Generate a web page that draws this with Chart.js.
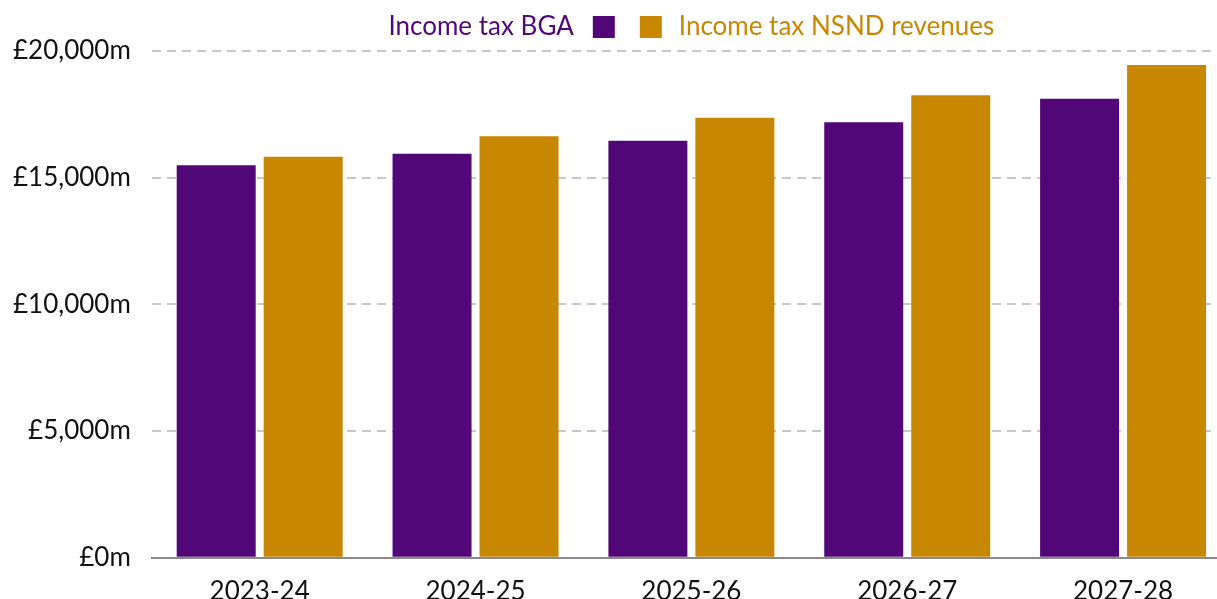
<!DOCTYPE html>
<html>
<head>
<meta charset="utf-8">
<script src="https://cdn.jsdelivr.net/npm/chart.js@4"></script>
<style>
html,body{margin:0;padding:0;background:#fff;overflow:hidden;}
#wrap{width:1231px;height:599px;}
</style>
</head>
<body>
<div id="wrap"><canvas id="c" width="1231" height="599"></canvas></div>
<script>
const categories = ["2023-24", "2024-25", "2025-26", "2026-27", "2027-28"];
const seriesNames = ["Income tax BGA", "Income tax NSND revenues"];
const bgaValues = [15490, 15950, 16460, 17190, 18120];
const nsndValues = [15830, 16640, 17370, 18250, 19450];
const yTicks = [0, 5000, 10000, 15000, 20000];

const PURPLE = "#510777";
const GOLD = "#c78700";
const FONT = "Lato, 'Noto Sans', sans-serif";

const legendPlugin = {
  id: "customLegend",
  afterDraw(chart) {
    const ctx = chart.ctx;
    const area = chart.chartArea;
    ctx.save();
    ctx.font = "26px " + FONT;
    ctx.textBaseline = "middle";
    const box = 22, gapTB = 19, gapMid = 25, gapBT = 17;
    const w1 = ctx.measureText(seriesNames[0]).width;
    const w2 = ctx.measureText(seriesNames[1]).width;
    const total = w1 + gapTB + box + gapMid + box + gapBT + w2;
    let x = (area.left + area.right) / 2 - total / 2;
    const y = 27;
    ctx.fillStyle = PURPLE;
    ctx.fillText(seriesNames[0], x, y);
    x += w1 + gapTB;
    ctx.fillRect(x, y - box / 2, box, box);
    x += box + gapMid;
    ctx.fillStyle = GOLD;
    ctx.fillRect(x, y - box / 2, box, box);
    x += box + gapBT;
    ctx.fillText(seriesNames[1], x, y);
    ctx.restore();
  }
};

new Chart(document.getElementById("c"), {
  type: "bar",
  data: {
    labels: categories,
    datasets: [
      { label: seriesNames[0], data: bgaValues, backgroundColor: PURPLE, categoryPercentage: 0.806, barPercentage: 0.908 },
      { label: seriesNames[1], data: nsndValues, backgroundColor: GOLD, categoryPercentage: 0.806, barPercentage: 0.908 }
    ]
  },
  options: {
    responsive: false,
    animation: false,
    layout: { padding: { top: 51, left: -8, right: 0, bottom: -26 } },
    plugins: { legend: { display: false }, tooltip: { enabled: false } },
    scales: {
      x: {
        grid: { display: false, drawTicks: false },
        border: { display: true, color: "#8a8a8a", width: 2 },
        ticks: { color: "#111", font: { family: FONT, size: 26 }, padding: 18 }
      },
      y: {
        min: 0, max: 20000,
        afterBuildTicks(scale) { scale.ticks = yTicks.map(v => ({ value: v })); },
        grid: { color: "#c8c8c8", lineWidth: 2, drawTicks: false },
        border: { display: false, dash: [9, 6] },
        ticks: {
          color: "#111", font: { family: FONT, size: 26 }, padding: 21,
          callback: v => "£" + v.toLocaleString("en-GB") + "m"
        }
      }
    }
  },
  plugins: [legendPlugin]
});
</script>
</body>
</html>
